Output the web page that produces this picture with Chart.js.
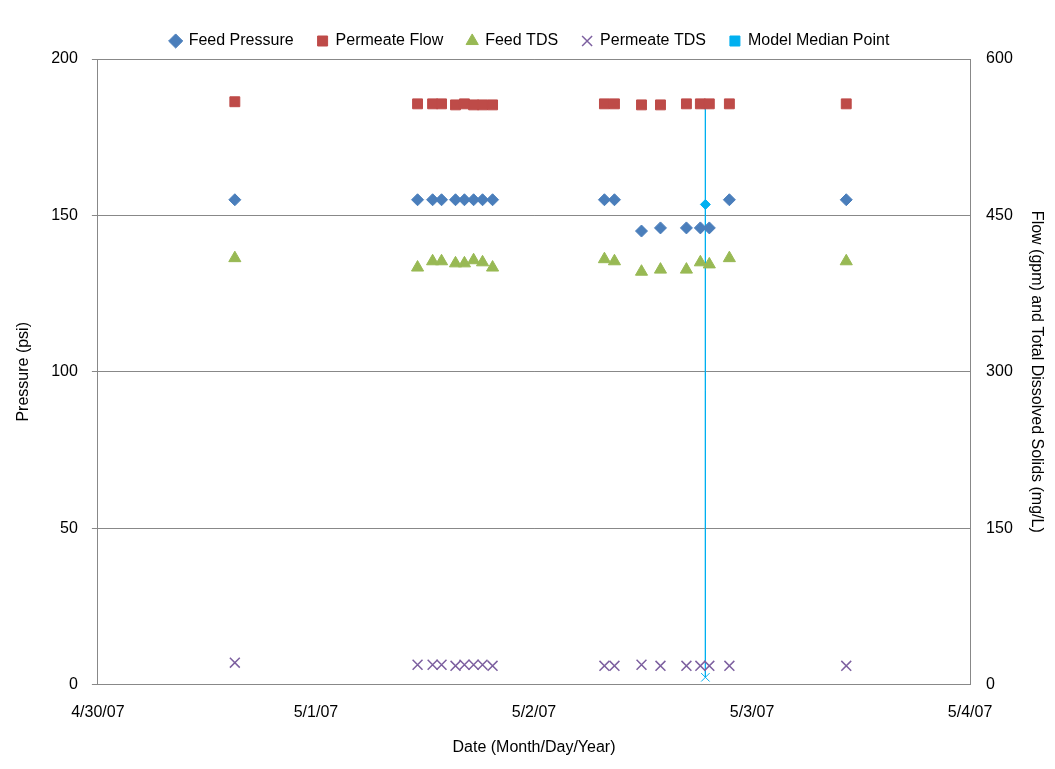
<!DOCTYPE html>
<html>
<head>
<meta charset="utf-8">
<script src="https://cdn.jsdelivr.net/npm/chart.js@4"></script>
<style>
  body { margin: 0; background: #fff; }
  #wrap { width: 1055px; height: 769px; }
</style>
</head>
<body>
<div id="wrap"><canvas id="roChart" width="1055" height="769"></canvas></div>
<script>
// days after 4/30/07
const pressureDays = [0.628, 1.466, 1.535, 1.576, 1.640, 1.681, 1.723, 1.764, 1.810, 2.323, 2.369, 2.493, 2.580, 2.699, 2.763, 2.804, 2.896, 3.432];
const feedPressure = [155, 155, 155, 155, 155, 155, 155, 155, 155, 155, 155, 145, 146, 146, 146, 146, 155, 155];

const sampleDays = [0.628, 1.466, 1.535, 1.576, 1.640, 1.681, 1.723, 1.764, 1.810, 2.323, 2.369, 2.493, 2.580, 2.699, 2.763, 2.804, 2.896, 3.432];
const permeateFlow = [559, 557, 557, 557, 556, 557, 556, 556, 556, 557, 557, 556, 556, 557, 557, 557, 557, 557];
const feedTds = [409, 400, 406, 406, 404, 404, 407, 405, 400, 408, 406, 396, 398, 398, 405, 403, 409, 406];
const permeateTds = [21, 19, 19, 19, 18, 19, 19, 19, 18, 18, 18, 19, 18, 18, 18, 18, 18, 18];

const medianDay = 2.786;
const medianPressure = 153.5;
const medianFlow = 557;
const medianPermTds = 7;

const xLabels = ['4/30/07', '5/1/07', '5/2/07', '5/3/07', '5/4/07'];

const pts = (xs, ys) => xs.map((x, i) => ({ x: x, y: ys[i] }));
const cyan = '#00b0f0';
const font = { size: 16, family: 'Arial, Liberation Sans' };

new Chart(document.getElementById('roChart').getContext('2d'), {
    type: 'scatter',
    data: {
        datasets: [
            { label: 'Feed Pressure', data: pts(pressureDays, feedPressure), yAxisID: 'y',
              pointStyle: 'rectRot', pointRadius: 6, backgroundColor: '#4a7ebb', borderColor: '#4a7ebb' },
            { label: 'Permeate Flow', data: pts(sampleDays, permeateFlow), yAxisID: 'y2',
              pointStyle: 'rect', pointRadius: 7, backgroundColor: '#be4b48', borderColor: '#be4b48' },
            { label: 'Feed TDS', data: pts(sampleDays, feedTds), yAxisID: 'y2',
              pointStyle: 'triangle', pointRadius: 7, backgroundColor: '#98b954', borderColor: '#98b954' },
            { label: 'Permeate TDS', data: pts(sampleDays, permeateTds), yAxisID: 'y2',
              pointStyle: 'cross', rotation: 45, pointRadius: 7, borderWidth: 1.5, backgroundColor: '#7d60a0', borderColor: '#7d60a0' },
            { label: 'Model Median Point', data: [{ x: medianDay, y: medianFlow }, { x: medianDay, y: medianPermTds }], yAxisID: 'y2',
              showLine: true, borderWidth: 1, pointStyle: ['rect', 'cross'], rotation: [0, 45], pointRadius: 6,
              backgroundColor: cyan, borderColor: cyan },
            { label: 'Model Median Pressure', data: [{ x: medianDay, y: medianPressure }], yAxisID: 'y',
              pointStyle: 'rectRot', pointRadius: 5, backgroundColor: cyan, borderColor: cyan }
        ]
    },
    options: {
        responsive: false,
        animation: false,
        layout: { padding: { left: 10, right: 5, top: 9, bottom: 8 } },
        scales: {
            x: {
                type: 'linear', min: 0, max: 4,
                ticks: { stepSize: 1, color: '#000', font: font, padding: 12, callback: v => xLabels[v] },
                grid: { display: false, tickLength: 6, color: '#888' },
                border: { color: '#888' },
                title: { display: true, text: 'Date (Month/Day/Year)', color: '#000', font: font, padding: { top: 4 } }
            },
            y: {
                position: 'left', min: 0, max: 200,
                ticks: { stepSize: 50, color: '#000', font: font, padding: 14 },
                grid: { color: '#888', tickLength: 6 },
                border: { color: '#888' },
                title: { display: true, text: 'Pressure (psi)', color: '#000', font: font }
            },
            y2: {
                position: 'right', min: 0, max: 600,
                ticks: { stepSize: 150, color: '#000', font: font, padding: 10 },
                grid: { display: false, tickLength: 6 },
                border: { color: '#888' },
                title: { display: true, text: 'Flow (gpm) and Total Dissolved Solids (mg/L)', color: '#000', font: font }
            }
        },
        plugins: {
            legend: {
                position: 'top',
                labels: {
                    usePointStyle: true, color: '#000', boxWidth: 10, boxHeight: 10, padding: 24,
                    font: font,
                    filter: item => item.text !== 'Model Median Pressure',
                    generateLabels: chart => Chart.defaults.plugins.legend.labels.generateLabels(chart).map(l => {
                        if (l.text === 'Model Median Point') { l.pointStyle = 'rect'; l.rotation = 0; }
                        return l;
                    })
                }
            },
            tooltip: { enabled: false }
        }
    }
});
</script>
</body>
</html>
